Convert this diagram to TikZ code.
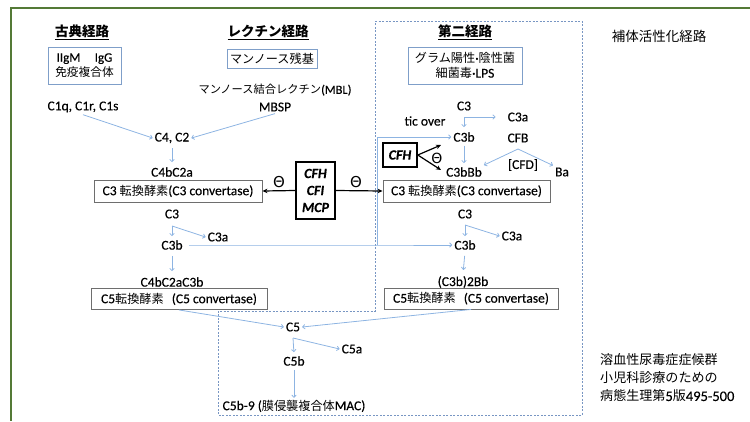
\documentclass[tikz,border=0pt]{standalone}
\usepackage{fontspec}
\setmainfont{Carlito}[FakeBold=0.35]
\newfontfamily\jp{Noto Sans CJK JP}[Scale=0.9]
\newfontfamily\dv{DejaVu Sans}
\usetikzlibrary{arrows.meta}
\definecolor{frameg}{RGB}{84,122,54}
\definecolor{arrb}{RGB}{141,180,226}
\definecolor{boxb}{RGB}{127,159,201}
\definecolor{boxg}{RGB}{110,110,110}
\definecolor{dashc}{RGB}{120,150,195}
\begin{document}
\begin{tikzpicture}[x=1pt,y=-1pt,
  t/.style={inner sep=2pt, font=\fontsize{13.5}{16}\selectfont, align=center},
  ttl/.style={inner sep=1pt, font=\fontsize{15}{17}\selectfont\jp\bfseries},
  bbox/.style={draw=boxb, line width=0.9pt, inner sep=0pt, align=center, font=\fontsize{13}{15}\selectfont},
  gbox/.style={draw=boxg, line width=0.9pt, inner sep=0pt, font=\fontsize{13.5}{16}\selectfont},
  kbox/.style={draw=black, line width=1.6pt, inner sep=0pt, font=\fontsize{14}{17}\selectfont\bfseries\itshape, align=center},
  barrow/.style={draw=arrb, line width=0.8pt, -{To[length=3pt,width=5pt]}},
  karrow/.style={draw=black, line width=1.2pt, -{Stealth[length=5pt,width=4.5pt]}},
  theta/.style={inner sep=0pt, font=\fontsize{15}{15}\selectfont\dv},
  dashbox/.style={draw=dashc, line width=0.7pt, dash pattern=on 2pt off 1.5pt}
]
\useasboundingbox (0,0) rectangle (750,421);
% frame
\draw[line width=2.5pt, draw=frameg] (750,8) -- (11,8) -- (11,421);
% dashed region
\draw[dashbox] (375,21) -- (582,21) -- (582,415) -- (218,415) -- (218,311) -- (375,311) -- cycle;

% titles
\node[ttl] (tko) at (82,32) {\underline{古典経路}};
\node[ttl] (tle) at (268,32) {\underline{レクチン経路}};
\node[ttl] (tdn) at (465,32) {\underline{第二経路}};
\node[inner sep=1pt, font=\fontsize{15}{17}\selectfont\jp] (thot) at (659,36) {補体活性化経路};

% source boxes
\node[bbox, minimum width=73pt, minimum height=37pt] (b1) at (84.5,65.5) {IIgM\hspace{1.1em}IgG\\{\jp 免疫複合体}};
\node[bbox, minimum width=90pt, minimum height=19pt, font=\fontsize{13.5}{15}\selectfont] (b2) at (272,58.5) {\jp マンノース残基};
\node[bbox, minimum width=114pt, minimum height=37pt, font=\fontsize{13.5}{15}\selectfont] (b3) at (465,65.5) {{\jp グラム陽性}·{\jp 陰性菌}\\{\jp 細菌毒}·LPS};

% classical / lectin
\node[t, font=\fontsize{12.5}{15}\selectfont] (mbl) at (275,90) {{\jp マンノース結合レクチン}(MBL)};
\node[t] (mbsp) at (275,107) {MBSP};
\node[t] (c1) at (83,107) {C1q, C1r, C1s};
\node[t] (c42) at (172,138) {C4, C2};
\node[t] (c4b2a) at (172,172) {C4bC2a};
\node[gbox, minimum width=168pt, minimum height=22pt] (conv1L) at (178,191) {C3 {\jp 転換酵素}(C3 convertase)};
\node[t] (c3L) at (172,214) {C3};
\node[t] (c3aL) at (218,237) {C3a};
\node[t] (c3bL) at (172,245) {C3b};
\node[t] (c4b2a3b) at (172,282) {C4bC2aC3b};
\node[gbox, minimum width=176pt, minimum height=21pt] (conv5L) at (179,299) {C5{\jp 転換酵素}\hspace{0.6em}(C5 convertase)};

% regulators
\node[kbox, minimum width=39pt, minimum height=57pt] (cfi) at (315.5,190.5) {CFH\\CFI\\MCP};
\node[theta] (th1) at (279,182) {Θ};
\node[theta] (th2) at (356,182) {Θ};

% alternative
\node[t] (c3R1) at (464,106) {C3};
\node[t] (tic) at (425,121) {tic over};
\node[t] (c3aR1) at (518,117) {C3a};
\node[t] (c3bR1) at (464,137) {C3b};
\node[t] (cfb) at (518,138) {CFB};
\node[t] (c3bbb) at (464,172) {C3bBb};
\node[t] (cfd) at (523,165) {[CFD]};
\node[t] (ba) at (562,172) {Ba};
\node[kbox, minimum width=34pt, minimum height=24pt] (cfh) at (400,155) {CFH};
\node[theta, font=\fontsize{14}{14}\selectfont\dv] (th3) at (437,158) {Θ};
\node[gbox, minimum width=167pt, minimum height=22pt] (conv1R) at (466.5,191) {C3 {\jp 転換酵素}(C3 convertase)};
\node[t] (c3R2) at (465,214) {C3};
\node[t] (c3aR2) at (512,236) {C3a};
\node[t] (c3bR2) at (465,245) {C3b};
\node[t] (c3b2bb) at (463,282) {(C3b)2Bb};
\node[gbox, minimum width=174pt, minimum height=21pt] (conv5R) at (471,298.5) {C5{\jp 転換酵素}\hspace{0.6em}(C5 convertase)};

% terminal
\node[t] (c5) at (293,327) {C5};
\node[t] (c5a) at (352,349) {C5a};
\node[t] (c5b) at (294,361) {C5b};
\node[t] (mac) at (294,406) {C5b-9 ({\jp 膜侵襲複合体}MAC)};

% source note
\node[inner sep=0pt, align=left, anchor=west, font=\fontsize{14.5}{18}\selectfont] (src) at (600,378)
  {{\jp 溶血性尿毒症症候群}\\{\jp 小児科診療のための}\\{\jp 病態生理第}5{\jp 版}495-500};

% coordinates
\coordinate (s1) at (172,226);
\coordinate (r1) at (464,117);
\coordinate (f1) at (518,149);
\coordinate (s2) at (465,225);
\coordinate (s5) at (293,338);
\coordinate (j1) at (377,245);
\coordinate (k1) at (441,145);
\coordinate (k2) at (441,170);

% blue connectors
\draw[barrow] (c1.south) -- (c42.west);
\draw[barrow] (mbsp.south) -- (c42.east);
\draw[barrow, shorten <=3pt, shorten >=3pt] (c42.south) -- (c4b2a.north);
\draw[barrow, shorten >=2pt] (s1) -- (c3bL.north);
\draw[barrow] (s1) -- (c3aL.west);
\draw[barrow, shorten <=4pt, shorten >=4pt] (c3bL.south) -- (c4b2a3b.north);
\draw[barrow, shorten <=4pt] (c3bL.east) -- (j1) -- (c3bR2.west);
\draw[barrow] (j1) |- (c3bR1.west);
\draw[barrow, shorten >=3pt] (r1) -- (c3bR1.north);
\draw[barrow, shorten >=10pt] (r1) -- (c3aR1.west);
\draw[barrow, shorten <=2pt, shorten >=2pt] (c3bR1.south) -- (c3bbb.north);
\draw[barrow] (f1) -- (c3bbb.north east);
\draw[barrow] (f1) -- (ba.north west);
\draw[barrow, shorten >=2pt] (s2) -- (c3bR2.north);
\draw[barrow] (s2) -- (c3aR2.west);
\draw[barrow, shorten <=4pt, shorten >=4pt] (c3bR2.south) -- (c3b2bb.north);
\draw[barrow] (conv5L.south) -- (c5.west);
\draw[barrow] (conv5R.south) -- (c5.east);
\draw[barrow, shorten >=2pt] (s5) -- (c5b.north);
\draw[barrow] (s5) -- (c5a.west);
\draw[barrow, shorten <=2pt] (c5b.south) -- (mac.north);

% black connectors
\draw[karrow] (cfi.west) -- (conv1L.east);
\draw[karrow] (cfi.east) -- (conv1R.west);
\draw[karrow] (cfh.east) -- (k1);
\draw[karrow] (cfh.east) -- (k2);
\end{tikzpicture}
\end{document}
